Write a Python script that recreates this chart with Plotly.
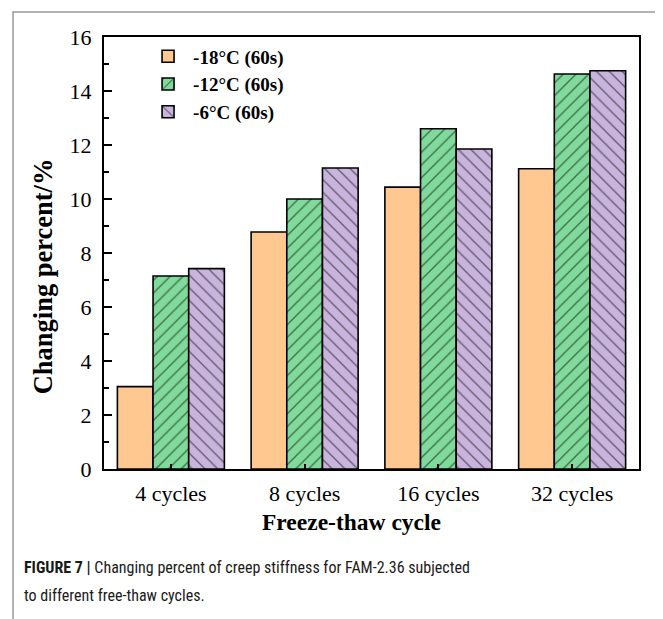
import plotly.graph_objects as go

categories = ["4 cycles", "8 cycles", "16 cycles", "32 cycles"]
series_names = ["-18°C (60s)", "-12°C (60s)", "-6°C (60s)"]
vals_m18 = [3.05, 8.78, 10.44, 11.12]
vals_m12 = [7.15, 10.0, 12.6, 14.63]
vals_m6 = [7.42, 11.15, 11.85, 14.75]
y_ticks = [0, 2, 4, 6, 8, 10, 12, 14, 16]

colors = ["#FFC891", "#80DA9B", "#C8B4DC"]
shapes_pat = ["", "/", "\\"]
series_vals = [vals_m18, vals_m12, vals_m6]

fig = go.Figure()
for name, vals, col, pat in zip(series_names, series_vals, colors, shapes_pat):
    marker = dict(color=col, line=dict(color="black", width=1.6))
    if pat:
        marker["pattern"] = dict(shape=pat, fgcolor="black", fillmode="overlay",
                                 size=9, solidity=0.15)
    fig.add_trace(go.Bar(x=categories, y=vals, name=name, marker=marker))

serif = "Liberation Serif, Times New Roman, serif"
# page body has an 8px margin: size/margins compensate so the plot area sits at x 104-639, y 37-469
fig.update_layout(
    width=655, height=611,
    margin=dict(l=96, r=24, t=29, b=150),
    paper_bgcolor="white", plot_bgcolor="white",
    barmode="group", bargap=0.2, bargroupgap=0,
    font=dict(family=serif, size=21, color="black"),
    showlegend=True,
    legend=dict(x=0.073, y=0.999, xanchor="left", yanchor="top",
                bgcolor="rgba(0,0,0,0)", tracegroupgap=0,
                font=dict(family=serif, size=19, color="black", weight="bold"),
                itemwidth=40),
    xaxis=dict(range=[-0.5, 3.5], showline=True, linecolor="black", linewidth=2,
               mirror=True, ticks="inside", ticklen=5, tickwidth=1.5, tickcolor="black",
               ticklabelstandoff=4,
               tickfont=dict(family=serif, size=22)),
    yaxis=dict(range=[0, 16], tickvals=y_ticks, showline=True, linecolor="black", linewidth=2,
               mirror=True, ticks="inside", ticklen=8, tickwidth=1.5, tickcolor="black",
               showgrid=False, zeroline=False, ticklabelstandoff=6,
               minor=dict(dtick=1, ticks="inside", ticklen=5, tickwidth=1.5, tickcolor="black"),
               tickfont=dict(family=serif, size=22)),
)

# axis titles
fig.add_annotation(xref="paper", yref="paper", x=0.463, y=-0.123, xanchor="center", yanchor="middle",
                   showarrow=False, text="<b>Freeze-thaw cycle</b>",
                   font=dict(family=serif, size=23.5, color="black"))
fig.add_annotation(xref="paper", yref="paper", x=-0.114, y=0.446, xanchor="center", yanchor="middle",
                   showarrow=False, text="<b>Changing percent/%</b>", textangle=-90,
                   font=dict(family=serif, size=26.5, color="black"))

# outer figure frame
fig.add_shape(type="rect", xref="paper", yref="paper",
              x0=-0.170, x1=1.043, y0=-0.6, y1=1.058,
              line=dict(color="#999999", width=1.5), fillcolor="rgba(0,0,0,0)", layer="below")

sans = "Liberation Sans Narrow, Arial Narrow, Roboto Condensed, Liberation Sans, sans-serif"
fig.add_annotation(xref="paper", yref="paper", x=-0.153, y=-0.229, xanchor="left", yanchor="middle",
                   showarrow=False, align="left",
                   text="<b>FIGURE 7 |</b> Changing percent of creep stiffness for FAM-2.36 subjected",
                   font=dict(family=sans, size=16, color="#1a1a1a"))
fig.add_annotation(xref="paper", yref="paper", x=-0.153, y=-0.292, xanchor="left", yanchor="middle",
                   showarrow=False, align="left",
                   text="to different free-thaw cycles.",
                   font=dict(family=sans, size=16, color="#1a1a1a"))

fig.write_html("out.html")
